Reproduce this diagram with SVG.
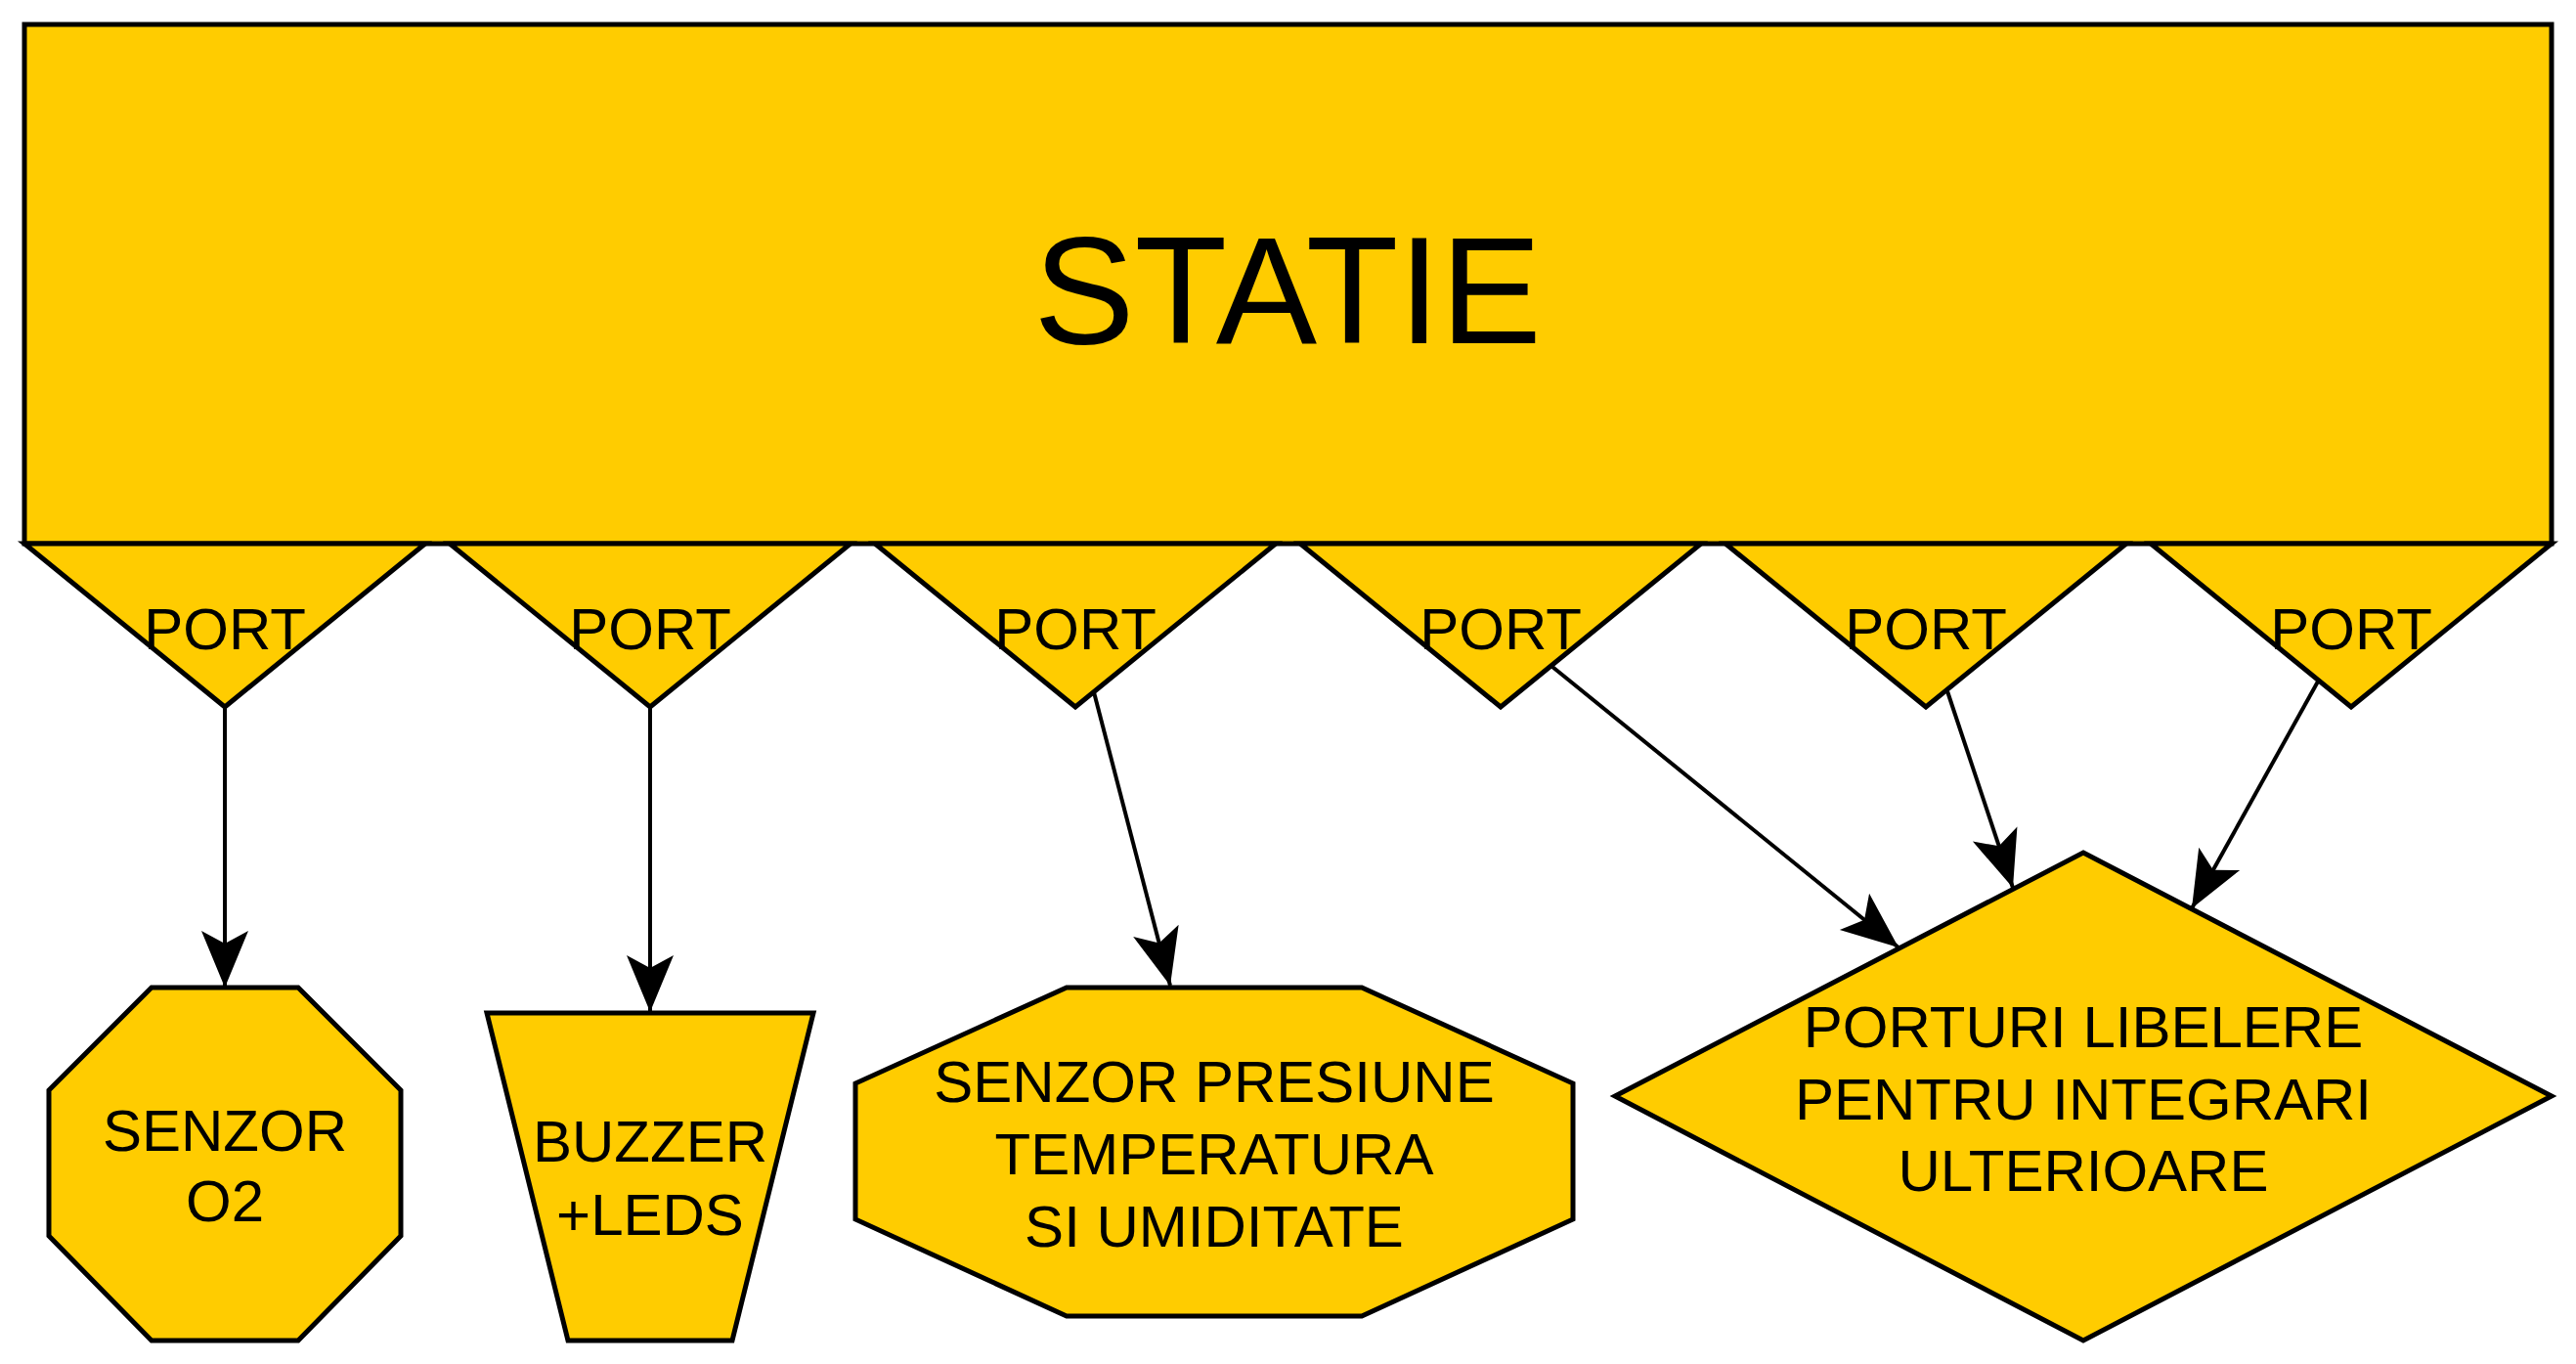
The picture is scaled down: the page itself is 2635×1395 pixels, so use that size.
<svg xmlns="http://www.w3.org/2000/svg" width="2635" height="1395" viewBox="0 0 2635 1395">
  <style>
    .shape { fill: #FFCC00; stroke: #000; stroke-width: 5; stroke-linejoin: miter; }
    .label { font-family: "Liberation Sans", Arial, sans-serif; font-size: 60px; fill: #000; text-anchor: middle; }
    .title { font-family: "Liberation Sans", Arial, sans-serif; font-size: 155px; fill: #000; text-anchor: middle; }
    .conn { fill: none; stroke: #000; stroke-width: 4; marker-end: url(#arrow); }
  </style>
  <defs>
    <marker id="arrow" markerUnits="userSpaceOnUse" orient="auto" overflow="visible" markerWidth="1" markerHeight="1" refX="0" refY="0">
      <path d="M0,0 L-58,-24 L-45,0 L-58,24 Z" fill="#000"/>
    </marker>
  </defs>
  <rect width="2635" height="1395" fill="#fff"/>

  <!-- station block -->
  <g id="statie">
    <rect class="shape" x="25" y="25" width="2585" height="531"/>
    <text class="title" x="1317" y="351">STATIE</text>
  </g>

  <!-- ports along the bottom edge of the station -->
  <g id="port1">
    <polygon class="shape" points="25,556 435,556 230,723"/>
    <text class="label" x="230" y="664">PORT</text>
  </g>
  <g id="port2">
    <polygon class="shape" points="460,556 870,556 665,723"/>
    <text class="label" x="665" y="664">PORT</text>
  </g>
  <g id="port3">
    <polygon class="shape" points="895,556 1305,556 1100,723"/>
    <text class="label" x="1100" y="664">PORT</text>
  </g>
  <g id="port4">
    <polygon class="shape" points="1330,556 1740,556 1535,723"/>
    <text class="label" x="1535" y="664">PORT</text>
  </g>
  <g id="port5">
    <polygon class="shape" points="1765,556 2175,556 1970,723"/>
    <text class="label" x="1970" y="664">PORT</text>
  </g>
  <g id="port6">
    <polygon class="shape" points="2200,556 2610,556 2405,723"/>
    <text class="label" x="2405" y="664">PORT</text>
  </g>

  <!-- peripherals -->
  <g id="senzor-o2">
    <polygon class="shape" points="155,1010 305,1010 410,1115 410,1264 305,1371 155,1371 50,1264 50,1115"/>
    <text class="label" x="230" y="1177">SENZOR</text>
    <text class="label" x="230" y="1249">O2</text>
  </g>
  <g id="buzzer-leds">
    <polygon class="shape" points="498,1036 832,1036 749,1371 581,1371"/>
    <text class="label" x="665" y="1188">BUZZER</text>
    <text class="label" x="665" y="1263">+LEDS</text>
  </g>
  <g id="senzor-presiune">
    <polygon class="shape" points="1091,1010 1393,1010 1609,1108 1609,1247 1393,1346 1091,1346 875,1247 875,1108"/>
    <text class="label" x="1242" y="1127">SENZOR PRESIUNE</text>
    <text class="label" x="1242" y="1201">TEMPERATURA</text>
    <text class="label" x="1242" y="1275">SI UMIDITATE</text>
  </g>
  <g id="porturi-libere">
    <polygon class="shape" points="2131,872 2610,1121 2131,1371 1652,1121"/>
    <text class="label" x="2131" y="1071">PORTURI LIBELERE</text>
    <text class="label" x="2131" y="1145">PENTRU INTEGRARI</text>
    <text class="label" x="2131" y="1218">ULTERIOARE</text>
  </g>

  <!-- connectors -->
  <g id="connectors">
    <path class="conn" d="M230,723 L230,1010"/>
    <path class="conn" d="M665,723 L665,1035"/>
    <path class="conn" d="M1119,708 L1197,1008"/>
    <path class="conn" d="M1588,682 L1942,969"/>
    <path class="conn" d="M1992,707 L2059,908"/>
    <path class="conn" d="M2371,697 L2242,929"/>
  </g>
</svg>
